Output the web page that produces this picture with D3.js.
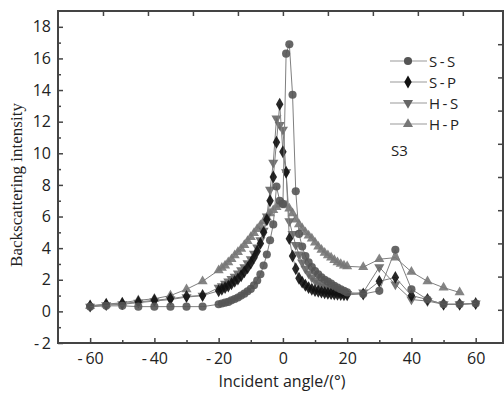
<!DOCTYPE html>
<html><head><meta charset="utf-8">
<script src="https://cdn.jsdelivr.net/npm/d3@7"></script>
<style>body{margin:0;background:#fff}svg{display:block}</style>
</head><body><svg id="c" width="504" height="394"></svg>
<script>
// ---- data ----
const wingL = [-60,-55,-50,-45,-40,-35,-30,-25];
const center = d3.range(-20,21);
const wingR = [25,30,35,40,45,50,55,60];
const angles = wingL.concat(center, wingR);

const seriesNames = ["S-S","S-P","H-S","H-P"];
const ssValues = [0.3,0.35,0.35,0.3,0.3,0.3,0.3,0.3,
 0.45,0.5,0.55,0.6,0.7,0.78,0.88,1.0,1.12,1.27,1.42,1.65,1.95,2.35,2.9,3.6,4.5,5.5,7.9,7.0,6.8,16.3,16.9,13.7,7.6,4.9,4.1,3.5,3.1,2.8,2.55,2.35,2.15,2.0,1.88,1.76,1.62,1.5,1.4,1.3,1.2,
 1.1,1.3,3.9,1.4,0.75,0.45,0.45,0.5];
const spValues = [0.35,0.45,0.5,0.6,0.7,0.8,0.95,1.0,
 1.3,1.4,1.5,1.6,1.75,1.9,2.05,2.25,2.5,2.75,3.05,3.4,3.8,4.3,5.0,5.8,7.0,8.5,10.7,13.1,10.1,8.8,4.6,3.5,2.7,2.1,1.85,1.65,1.5,1.4,1.32,1.27,1.22,1.18,1.15,1.12,1.1,1.08,1.06,1.05,1.05,
 1.1,1.9,2.15,1.0,0.75,0.45,0.45,0.5];
const hsValues = [0.3,0.4,0.45,0.55,0.65,0.75,0.9,1.0,
 1.5,1.6,1.75,1.9,2.05,2.2,2.4,2.6,2.8,3.05,3.3,3.65,4.05,4.5,5.1,6.0,7.7,9.4,12.2,11.8,11.5,8.8,5.7,4.9,4.2,3.6,3.1,2.7,2.4,2.15,1.95,1.8,1.65,1.55,1.45,1.38,1.3,1.25,1.2,1.15,1.1,
 1.2,2.8,1.7,0.75,0.65,0.45,0.45,0.5];
const hpValues = [0.35,0.45,0.55,0.7,0.8,1.0,1.4,1.9,
 2.6,2.75,2.9,3.1,3.3,3.55,3.75,3.95,4.2,4.45,4.7,4.95,5.2,5.45,5.7,5.95,6.2,6.4,6.6,6.75,6.8,6.7,6.5,6.2,5.8,5.5,5.25,5.0,4.8,4.6,4.35,4.1,3.9,3.7,3.55,3.4,3.25,3.1,3.0,2.9,2.85,
 2.8,3.3,3.4,2.5,1.9,1.5,1.2,null];

const xTicks = [-60,-40,-20,0,20,40,60];
const xMinor = [-50,-30,-10,10,30,50];
const yTicks = [-2,0,2,4,6,8,10,12,14,16,18];
const yMinor = [-1,1,3,5,7,9,11,13,15,17];
const topTicks = [-56,-42,-28,-14,0,14,28,42,56];
const rightTicks = [0.1,2.2,4.3,6.4,8.5,10.6,12.7,14.8,16.9];

// ---- chart ----
const svg = d3.select("#c");
const x = d3.scaleLinear().domain([-70,68.5]).range([58,503]);
const y = d3.scaleLinear().domain([-2,19]).range([343,11]);
const axisColor = "#444";
const sans = "'Open Sans','Noto Sans',sans-serif";

const series = [
  {name:seriesNames[0], vals:ssValues, sym:d3.symbolCircle, rot:0, size:52, color:"#555"},
  {name:seriesNames[1], vals:spValues, sym:d3.symbolDiamond, rot:0, size:48, color:"#111"},
  {name:seriesNames[2], vals:hsValues, sym:d3.symbolTriangle, rot:180, size:44, color:"#666"},
  {name:seriesNames[3], vals:hpValues, sym:d3.symbolTriangle, rot:0, size:44, color:"#777"}
];

const gData = svg.append("g");
const line = d3.line().defined(d=>d.v!=null).x(d=>x(d.a)).y(d=>y(d.v));
series.slice().reverse().forEach(s=>{
  const pts = angles.map((a,i)=>({a, v:s.vals[i]}));
  gData.append("path").datum(pts).attr("d",line)
    .attr("fill","none").attr("stroke","#808080").attr("stroke-width",1);
  gData.selectAll(null).data(pts.filter(p=>p.v!=null)).enter().append("path")
    .attr("d", d3.symbol(s.sym, s.size))
    .attr("transform", d=>`translate(${x(d.a)},${y(d.v)}) rotate(${s.rot})`)
    .attr("fill", s.color).attr("opacity",0.9);
});

// axes
function styleAxis(g){
  g.select(".domain").remove();
  g.selectAll(".tick line").attr("stroke",axisColor).attr("stroke-width",1.5);
  g.selectAll(".tick text").attr("fill","#222").attr("font-family",sans).attr("font-size",16);
}
const fmt = d => d<0 ? "-\u2009"+Math.abs(d) : String(d);
svg.append("g").attr("transform","translate(0,343)")
  .call(d3.axisBottom(x).tickValues(xTicks).tickSize(-5).tickPadding(10).tickFormat(fmt)).call(styleAxis);
svg.append("g").attr("transform","translate(0,343)")
  .call(d3.axisBottom(x).tickValues(xMinor).tickSize(-3).tickFormat("")).call(styleAxis);
svg.append("g").attr("transform","translate(58,0)")
  .call(d3.axisLeft(y).tickValues(yTicks).tickSize(-5).tickPadding(7).tickFormat(fmt)).call(styleAxis);
svg.append("g").attr("transform","translate(58,0)")
  .call(d3.axisLeft(y).tickValues(yMinor).tickSize(-3).tickFormat("")).call(styleAxis);
svg.append("g").attr("transform","translate(0,11)")
  .call(d3.axisTop(x).tickValues(topTicks).tickSize(-5).tickFormat("")).call(styleAxis);
svg.append("g").attr("transform","translate(503,0)")
  .call(d3.axisRight(y).tickValues(rightTicks).tickSize(-5).tickFormat("")).call(styleAxis);

// frame
svg.append("rect").attr("x",x.range()[0]).attr("y",y.range()[1])
  .attr("width",x.range()[1]-x.range()[0]).attr("height",y.range()[0]-y.range()[1])
  .attr("fill","none").attr("stroke",axisColor).attr("stroke-width",2);

// axis titles
svg.append("text").attr("transform","translate(22,185) rotate(-90)")
  .attr("text-anchor","middle").attr("font-family","'Liberation Serif','Times New Roman',serif")
  .attr("font-size",17).attr("fill","#222").text("Backscattering intensity");
svg.append("text").attr("x",282).attr("y",387).attr("text-anchor","middle")
  .attr("font-family",sans).attr("font-size",16).attr("fill","#222").text("Incident angle/(°)");

// legend
const lg = svg.append("g");
series.forEach((s,i)=>{
  const cy = 61 + i*21;
  lg.append("line").attr("x1",390).attr("x2",427).attr("y1",cy).attr("y2",cy)
    .attr("stroke","#999").attr("stroke-width",1.2);
  lg.append("path").attr("d", d3.symbol(s.sym, s.size))
    .attr("transform",`translate(408,${cy}) rotate(${s.rot})`).attr("fill",s.color);
  lg.append("text").attr("x",429).attr("y",cy+5.5).attr("font-family",sans)
    .attr("font-size",15).attr("letter-spacing",2.5).attr("fill","#222").text(s.name);
});
lg.append("text").attr("x",391).attr("y",156).attr("font-family",sans)
  .attr("font-size",15).attr("fill","#222").text("S3");
</script></body></html>
